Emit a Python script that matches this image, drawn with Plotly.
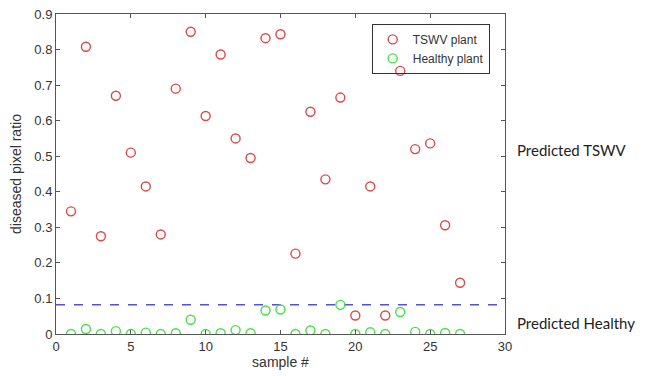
import plotly.graph_objects as go

samples = list(range(1, 28))
tswv = [0.345, 0.808, 0.275, 0.67, 0.51, 0.415, 0.28, 0.69, 0.85, 0.613,
        0.786, 0.55, 0.495, 0.832, 0.843, 0.226, 0.625, 0.435, 0.665, 0.052,
        0.415, 0.052, 0.74, 0.52, 0.536, 0.306, 0.144]
healthy = [0.0, 0.014, 0.0, 0.008, 0.0, 0.004, 0.0, 0.002, 0.04, 0.0,
           0.002, 0.011, 0.002, 0.066, 0.069, 0.0, 0.01, 0.0, 0.082, 0.0,
           0.005, 0.0, 0.062, 0.006, 0.0, 0.003, 0.0]
threshold = 0.082
threshold_x = [0, 30]
x_ticks = [0, 5, 10, 15, 20, 25, 30]
y_ticks = [0, 0.1, 0.2, 0.3, 0.4, 0.5, 0.6, 0.7, 0.8, 0.9]
y_tick_labels = ["0", "0.1", "0.2", "0.3", "0.4", "0.5", "0.6", "0.7", "0.8", "0.9"]

fig = go.Figure()
fig.add_trace(go.Scatter(x=threshold_x, y=[threshold, threshold], mode="lines",
                         line=dict(color="#5050e8", width=1.5, dash="dash"),
                         showlegend=False, hoverinfo="skip"))
fig.add_trace(go.Scatter(x=samples, y=tswv, mode="markers", name="TSWV plant",
                         marker=dict(symbol="circle-open", size=9, color="#e04848",
                                     line=dict(width=1.4))))
fig.add_trace(go.Scatter(x=samples, y=healthy, mode="markers", name="Healthy plant",
                         marker=dict(symbol="circle-open", size=9, color="#48e048",
                                     line=dict(width=1.4))))

axis_common = dict(showgrid=False, zeroline=False, showline=True, linecolor="#555",
                   linewidth=1, mirror="allticks", ticks="inside", ticklen=4,
                   tickcolor="#555", automargin=False, ticklabeloverflow="allow",
                   tickfont=dict(family="Liberation Sans", size=13, color="#333"))

fig.update_layout(
    width=638, height=368,
    margin=dict(l=48, r=141, t=6, b=42, autoexpand=False),
    paper_bgcolor="white", plot_bgcolor="white",
    xaxis=dict(range=[0, 30], tickvals=x_ticks, title=dict(text="sample #", standoff=2,
               font=dict(family="Liberation Sans", size=14, color="#333")), **axis_common),
    yaxis=dict(range=[0, 0.9], tickvals=y_ticks, ticktext=y_tick_labels,
               title=dict(text="diseased pixel ratio",
                          font=dict(family="Liberation Sans", size=14, color="#333")), **axis_common),
    legend=dict(x=0.966, y=0.969, xanchor="right", yanchor="top",
                bordercolor="#333", borderwidth=1, bgcolor="rgba(255,255,255,0)",
                font=dict(family="Liberation Sans", size=12, color="#333"),
                itemwidth=30, tracegroupgap=0),
    annotations=[
        dict(text="Predicted TSWV", xref="paper", yref="y", x=1.022, y=0.518,
             xanchor="left", yanchor="middle", showarrow=False,
             font=dict(family="Lato", size=15, color="#222")),
        dict(text="Predicted Healthy", xref="paper", yref="y", x=1.022, y=0.032,
             xanchor="left", yanchor="middle", showarrow=False,
             font=dict(family="Lato", size=15, color="#222")),
    ],
)

fig.write_html("out.html")
